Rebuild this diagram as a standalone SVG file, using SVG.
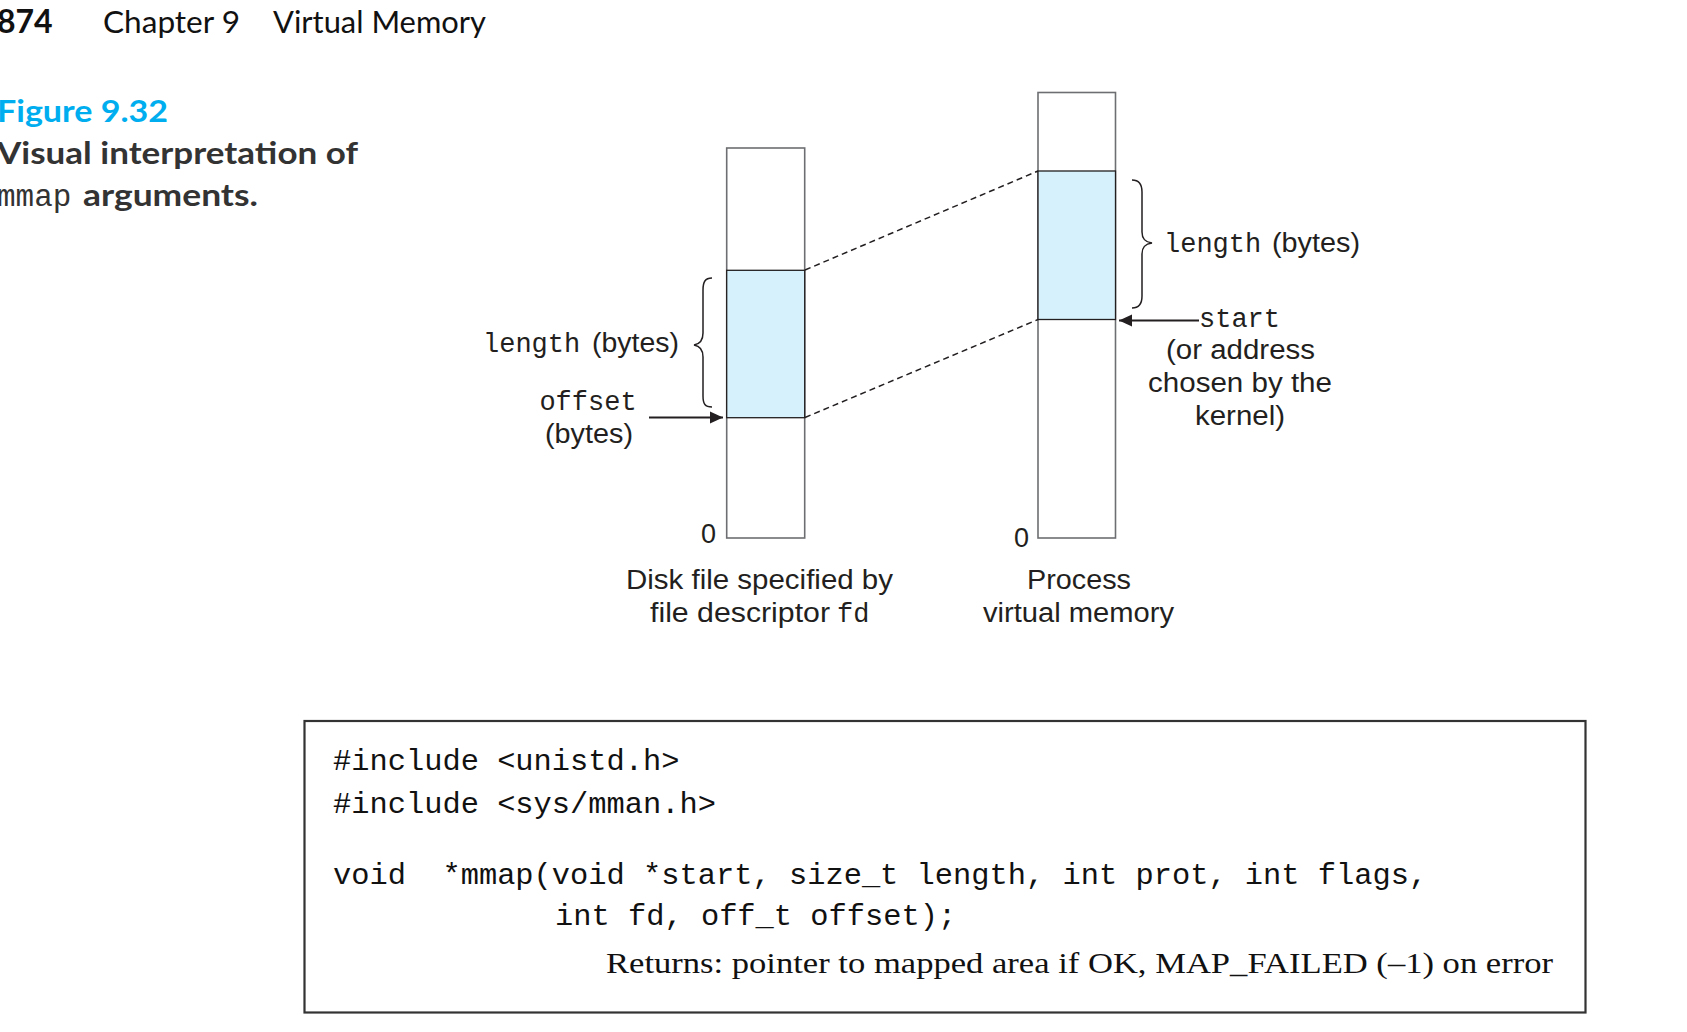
<svg xmlns="http://www.w3.org/2000/svg" width="1687" height="1032" viewBox="0 0 1687 1032">
<style>
.hdr{font-family:Lato,"Open Sans",sans-serif;fill:#111}
.cap{font-family:Lato,"Open Sans",sans-serif;font-weight:bold;fill:#333}
.mono{font-family:"Liberation Mono","DejaVu Sans Mono",monospace;fill:#231f20}
.sans{font-family:"Liberation Sans",Arial,sans-serif;fill:#231f20;font-size:27px}
.lbl{font-size:27px}
.box{fill:#fff;stroke:#6d6e71;stroke-width:1.6}
.blue{fill:#d6f1fb;stroke:#231f20;stroke-width:1.3}
.dash{stroke:#231f20;stroke-width:1.5;stroke-dasharray:6,4;fill:none}
.brace{stroke:#231f20;stroke-width:1.5;fill:none}
.arr{stroke:#231f20;stroke-width:1.8;fill:none}
.code{font-family:"Liberation Mono","DejaVu Sans Mono",monospace;font-size:30.4px;fill:#111}
.serif{font-family:"Liberation Serif","Times New Roman",serif;font-size:30px;fill:#111}
</style>
<defs>
<marker id="ah" markerUnits="userSpaceOnUse" markerWidth="14" markerHeight="14" refX="13" refY="7" orient="auto">
<path d="M0,1 L13,7 L0,13 z" fill="#231f20"/>
</marker>
</defs>
<rect width="1687" height="1032" fill="#fff"/>

<g id="header">
<text class="hdr" x="-3" y="33" font-size="32" font-weight="bold">874</text>
<text class="hdr" x="103" y="33" font-size="31" textLength="137" lengthAdjust="spacingAndGlyphs">Chapter 9</text>
<text class="hdr" x="273" y="33" font-size="31" textLength="213" lengthAdjust="spacingAndGlyphs">Virtual Memory</text>
</g>

<g id="caption">
<text x="-3" y="122" font-family="Lato,'Open Sans',sans-serif" font-weight="bold" font-size="31" fill="#00aeef" textLength="171" lengthAdjust="spacingAndGlyphs">Figure 9.32</text>
<text class="cap" x="-3" y="163.5" font-size="31" textLength="361" lengthAdjust="spacingAndGlyphs">Visual interpretation of</text>
<text x="-3" y="206" font-family="'Liberation Mono',monospace" font-size="31" fill="#333">mmap</text>
<text class="cap" x="83" y="206" font-size="31" textLength="175" lengthAdjust="spacingAndGlyphs">arguments.</text>
</g>

<g id="disk-file">
<rect class="box" x="726.7" y="148" width="78" height="390"/>
<rect class="blue" x="726.7" y="270.3" width="78" height="147.4"/>
<text class="sans" x="716" y="543" font-size="19" text-anchor="end">0</text>
<text class="sans" x="626" y="589" textLength="267" lengthAdjust="spacingAndGlyphs">Disk file specified by</text>
<text class="sans" x="650" y="622" textLength="180" lengthAdjust="spacingAndGlyphs">file descriptor</text>
<text class="mono lbl" x="837" y="622">fd</text>
</g>

<g id="virtual-memory">
<rect class="box" x="1038" y="92.5" width="77.5" height="445.5"/>
<rect class="blue" x="1038" y="171" width="77.5" height="148.5"/>
<text class="sans" x="1029" y="547" font-size="19" text-anchor="end">0</text>
<text class="sans" x="1027" y="589" textLength="104" lengthAdjust="spacingAndGlyphs">Process</text>
<text class="sans" x="983" y="622" textLength="191" lengthAdjust="spacingAndGlyphs">virtual memory</text>
</g>

<g id="left-labels">
<path class="brace" d="M712,278 C705,278 703,282 703,290 L703,333 C703,340 700,344 694,345 C700,346 703,350 703,357 L703,396 C703,404 705,407 712,407"/>
<text class="mono lbl" x="483" y="352">length</text>
<text class="sans" x="592" y="352" textLength="87" lengthAdjust="spacingAndGlyphs">(bytes)</text>
<text class="mono lbl" x="588" y="410" text-anchor="middle">offset</text>
<text class="sans" x="545" y="443" textLength="88" lengthAdjust="spacingAndGlyphs">(bytes)</text>
</g>

<g id="right-labels">
<path class="brace" d="M1132,180 C1139,180 1142,184 1142,192 L1142,232 C1142,239 1145,242 1152,243 C1145,244 1142,247 1142,254 L1142,296 C1142,304 1139,308 1132,308"/>
<text class="mono lbl" x="1164" y="252">length</text>
<text class="sans" x="1272" y="252" textLength="88" lengthAdjust="spacingAndGlyphs">(bytes)</text>
<text class="mono lbl" x="1199" y="327">start</text>
<text class="sans" x="1166" y="359" textLength="149" lengthAdjust="spacingAndGlyphs">(or address</text>
<text class="sans" x="1148" y="392" textLength="184" lengthAdjust="spacingAndGlyphs">chosen by the</text>
<text class="sans" x="1195" y="425" textLength="90" lengthAdjust="spacingAndGlyphs">kernel)</text>
</g>

<g id="connectors">
<line class="dash" x1="805" y1="270" x2="1038" y2="171"/>
<line class="dash" x1="805" y1="417.5" x2="1038" y2="319.5"/>
<line class="arr" x1="649" y1="417.5" x2="723" y2="417.5" marker-end="url(#ah)"/>
<line class="arr" x1="1199" y1="320.5" x2="1119" y2="320.5" marker-end="url(#ah)"/>
</g>

<g id="code-box">
<rect x="304.5" y="721" width="1281" height="291.5" fill="#fff" stroke="#333" stroke-width="2.2"/>
<text class="code" x="333" y="770">#include &lt;unistd.h&gt;</text>
<text class="code" x="333" y="813">#include &lt;sys/mman.h&gt;</text>
<text class="code" x="333" y="884" xml:space="preserve">void  *mmap(void *start, size_t length, int prot, int flags,</text>
<text class="code" x="555" y="925">int fd, off_t offset);</text>
<text class="serif" x="606" y="973" textLength="947" lengthAdjust="spacingAndGlyphs">Returns: pointer to mapped area if OK, MAP_FAILED (–1) on error</text>
</g>
</svg>
